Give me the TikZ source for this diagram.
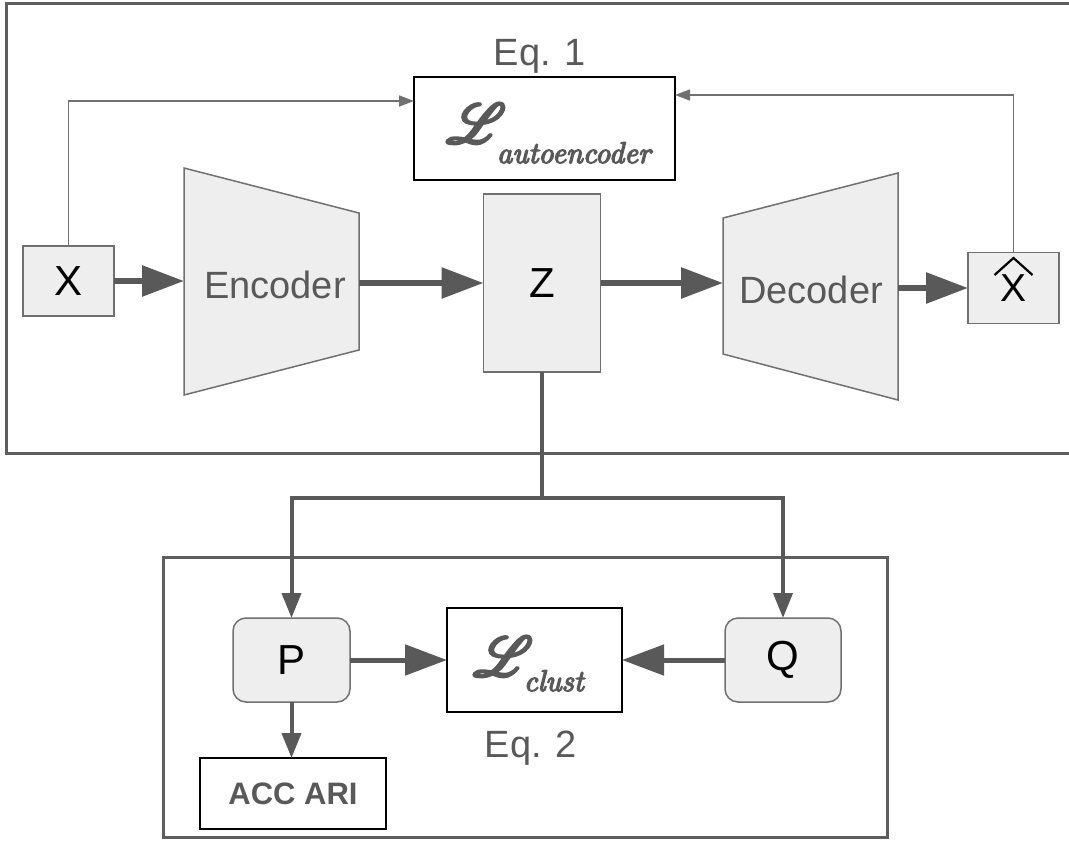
\documentclass[tikz,border=0pt]{standalone}
\usepackage{fontspec}
\setmainfont{Liberation Sans}
\newfontfamily\lmsub{lmroman10-italic}[Extension=.otf]
\usepackage{mathrsfs}
\usetikzlibrary{arrows.meta}
\definecolor{dg}{HTML}{595959}
\definecolor{lg}{HTML}{EEEEEE}
\definecolor{bd}{HTML}{707070}
\definecolor{fr}{HTML}{5E5E5E}
\newcommand{\boldscriptL}{\scalebox{5.6}{\special{pdf:literal direct 2 Tr 0.5 w}$\mathscr{L}$\special{pdf:literal direct 0 Tr}}}
\newcommand{\boldsub}[1]{\special{pdf:literal direct 2 Tr 1.3 w}{\lmsub\fontsize{30}{32}\selectfont #1}\special{pdf:literal direct 0 Tr}}
\newcommand{\lossL}[2]{\boldscriptL\kern-9pt\raisebox{-#2}{\boldsub{#1}}}
\tikzset{
  gbox/.style={draw=bd, line width=1.5pt, fill=lg, inner sep=0pt, outer sep=0pt},
  wbox/.style={draw=black, line width=2pt, fill=white, inner sep=0pt, outer sep=0pt},
  framebox/.style={draw=fr, line width=3pt},
  bigletter/.style={text=black, font=\fontsize{42}{48}\selectfont},
  graytext/.style={text=dg, font=\fontsize{38}{44}\selectfont},
  scripttext/.style={text=dg, font=\fontsize{10}{12}\selectfont, inner sep=0pt, anchor=base west},
  bigarrow/.style={draw=dg, line width=6pt, -{Triangle[length=42pt,width=30pt]}},
  midarrow/.style={draw=dg, line width=5pt, -{Triangle[length=42pt,width=30pt]}},
  brancharrow/.style={draw=dg, line width=4pt, -{Triangle[length=25pt,width=19pt]}},
  branchline/.style={draw=dg, line width=4pt},
  thinarrow/.style={draw=bd, line width=1.5pt, -{Triangle[length=15pt,width=11pt]}}
}
\begin{document}
\begin{tikzpicture}[x=1pt,y=-1pt]
\useasboundingbox (0,0) rectangle (1069,844);
% frames
\draw[framebox] (1072,3) -- (6,3) -- (6,453) -- (1072,453);
\draw[framebox] (163,557) rectangle (887,837);
% top row
\node[gbox, bigletter, minimum width=91pt, minimum height=70pt] (x) at (68.5,281) {X};
\draw[gbox] (184,168) -- (359,213) -- (359,350) -- (184,395) -- cycle;
\node[graytext, anchor=base] (enc) at (275,298) {Encoder};
\coordinate (encL) at (184,281);
\coordinate (encR) at (359,283);
\node[gbox, bigletter, minimum width=117pt, minimum height=178pt] (z) at (542,283) {Z};
\draw[gbox] (723,218) -- (898,173) -- (898,400) -- (723,354) -- cycle;
\node[graytext, anchor=base] (dec) at (811,303) {Decoder};
\coordinate (decL) at (723,283);
\coordinate (decR) at (898,288);
\node[gbox, bigletter, font=\fontsize{39}{44}\selectfont, minimum width=91pt, minimum height=71pt] (xh) at (1013.5,288) {\raisebox{-3pt}{X}};
\draw[black, line width=2.2pt] ([xshift=-19pt,yshift=13pt]xh.center) -- ([yshift=30pt]xh.center) -- ([xshift=19pt,yshift=13pt]xh.center);
\node[wbox, minimum width=261pt, minimum height=103pt] (lae) at (544.5,128.5) {};
\node[scripttext] (laet) at (446,143) {\lossL{autoencoder}{20pt}};
\node[graytext, anchor=base] (eq1) at (540,65) {Eq. 1};
% top arrows
\draw[bigarrow] (x.east) -- (encL);
\draw[bigarrow] (encR) -- (z.west);
\draw[bigarrow] (z.east) -- (decL);
\draw[bigarrow] (decR) -- (xh.west);
\draw[thinarrow] (x.north) |- ([yshift=27.5pt]lae.west);
\draw[thinarrow] (xh.north) |- ([yshift=33.5pt]lae.east);
% bottom
\node[gbox, bigletter, rounded corners=13pt, minimum width=117pt, minimum height=84pt] (p) at (291.5,660) {P};
\node[gbox, bigletter, rounded corners=13pt, minimum width=116pt, minimum height=84pt] (q) at (783,660) {Q};
\node[wbox, minimum width=175pt, minimum height=104pt] (lcl) at (534.5,660) {};
\node[scripttext] (lclt) at (473,676) {\lossL{clust}{15pt}};
\node[graytext, anchor=base] (eq2) at (531,757) {Eq. 2};
\node[wbox, text=dg, font=\fontsize{31}{36}\selectfont\bfseries, minimum width=186pt, minimum height=71pt] (acc) at (293,793.5) {ACC ARI};
\coordinate (br) at (542,498);
\draw[branchline] (z.south) -- (br);
\draw[brancharrow] (br) -| (p.north);
\draw[brancharrow] (br) -| (q.north);
\draw[brancharrow] (p.south) -- (acc.north -| p.south);
\draw[midarrow] (p.east) -- (lcl.west);
\draw[midarrow] (q.west) -- (lcl.east);
\end{tikzpicture}
\end{document}
